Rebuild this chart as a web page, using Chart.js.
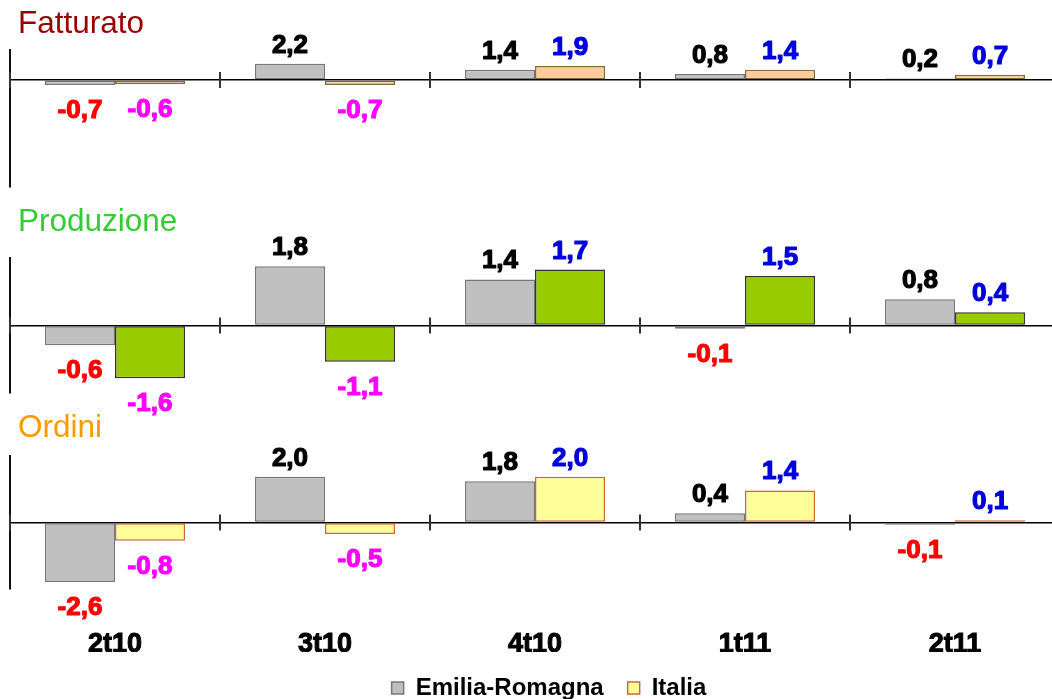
<!DOCTYPE html>
<html>
<head>
<meta charset="utf-8">
<script src="https://cdn.jsdelivr.net/npm/chart.js@4.4.0/dist/chart.umd.min.js"></script>
<style>
  html, body { margin: 0; padding: 0; background: #fff; overflow: hidden; width: 1052px; height: 699px; }
  #wrap { position: relative; width: 1052px; height: 699px; overflow: hidden; }
  canvas { position: absolute; left: 0; }
  .ttl { position: absolute; left: 18px; font: 31.5px "Liberation Sans", Arial, sans-serif; line-height: 1; white-space: nowrap; }
</style>
</head>
<body>
<div id="wrap">
  <canvas id="cFatt" width="1100" height="200" style="top:0"></canvas>
  <canvas id="cProd" width="1100" height="220" style="top:200px"></canvas>
  <canvas id="cOrd" width="1100" height="290" style="top:420px"></canvas>
  <div class="ttl" style="top:7px;color:#990000">Fatturato</div>
  <div class="ttl" style="top:205px;color:#33cc33">Produzione</div>
  <div class="ttl" style="top:411px;color:#ff9900">Ordini</div>
</div>
<script>
// Quarters on the x axis
const categories = ['2t10', '3t10', '4t10', '1t11', '2t11'];
const seriesNames = ['Emilia-Romagna', 'Italia'];

// Variazioni congiunturali (%)
const fatturatoER  = [-0.7, 2.2, 1.4, 0.8, 0.2];
const fatturatoIT  = [-0.6, -0.7, 1.9, 1.4, 0.7];
const produzioneER = [-0.6, 1.8, 1.4, -0.1, 0.8];
const produzioneIT = [-1.6, -1.1, 1.7, 1.5, 0.4];
const ordiniER     = [-2.6, 2.0, 1.8, 0.4, -0.1];
const ordiniIT     = [-0.8, -0.5, 2.0, 1.4, 0.1];

const FONT = '"Liberation Sans", Arial, sans-serif';

// Value labels: above positive bars, below negative ones, comma decimals
const valueLabels = {
  id: 'valueLabels',
  afterDatasetsDraw(chart) {
    const ctx = chart.ctx;
    ctx.save();
    ctx.font = 'bold 26px ' + FONT;
    ctx.textAlign = 'center';
    ctx.textBaseline = 'alphabetic';
    ctx.lineJoin = 'round';
    chart.data.datasets.forEach((ds, di) => {
      const meta = chart.getDatasetMeta(di);
      meta.data.forEach((bar, i) => {
        const v = ds.data[i];
        const top = Math.min(bar.y, bar.base);
        const bottom = Math.max(bar.y, bar.base);
        const pos = v >= 0;
        const col = pos ? ds.labelColorPos : ds.labelColorNeg;
        const txt = v.toFixed(1).replace('.', ',');
        const y = pos ? top - 11 : bottom + 33;
        ctx.fillStyle = col;
        ctx.strokeStyle = col;
        ctx.lineWidth = 1.2;
        ctx.fillText(txt, bar.x, y);
        ctx.strokeText(txt, bar.x, y);
      });
    });
    ctx.restore();
  }
};

// Short tick marks crossing the zero line at each category boundary
const boundaryTicks = {
  id: 'boundaryTicks',
  afterDraw(chart) {
    const xs = chart.scales.x, ys = chart.scales.y;
    const ctx = chart.ctx;
    const y0 = ys.getPixelForValue(0);
    const step = xs.getPixelForValue(1) - xs.getPixelForValue(0);
    ctx.save();
    ctx.strokeStyle = '#333';
    ctx.lineWidth = 2;
    ctx.beginPath();
    for (let i = 0; i <= categories.length; i++) {
      const px = Math.round(xs.getPixelForValue(i) - step / 2);
      ctx.moveTo(px, y0 - 8);
      ctx.lineTo(px, y0 + 8);
    }
    ctx.stroke();
    ctx.restore();
  }
};

function makeDatasets(er, it, itFill, itBorder) {
  return [
    { label: seriesNames[0], data: er, yAxisID: 'y',
      backgroundColor: '#c0c0c0', borderColor: '#777777', borderWidth: 1.5, borderSkipped: false,
      labelColorPos: '#000000', labelColorNeg: '#ff0000' },
    { label: seriesNames[1], data: it, yAxisID: 'y',
      backgroundColor: itFill, borderColor: itBorder, borderWidth: 1.5, borderSkipped: false,
      labelColorPos: '#0000dd', labelColorNeg: '#ff00ff' }
  ];
}

// Value axis: no tick labels, only the zero line and the vertical axis line
function yScale(min, max) {
  return {
    min: min, max: max,
    ticks: { display: false },
    afterBuildTicks: s => { s.ticks = [{ value: 0 }]; },
    grid: { color: '#000', lineWidth: 1.5, drawTicks: false },
    border: { display: true, color: '#111', width: 2 },
    afterFit: s => { s.width = 10; }
  };
}

function baseOptions(min, max, padding) {
  return {
    responsive: false,
    animation: false,
    layout: { padding: padding },
    datasets: { bar: { categoryPercentage: 0.667, barPercentage: 1.0 } },
    plugins: { legend: { display: false }, tooltip: { enabled: false }, title: { display: false } },
    scales: {
      x: { display: false, offset: true, grid: { display: false }, border: { display: false } },
      y: yScale(min, max)
    }
  };
}

// Fatturato
new Chart(document.getElementById('cFatt'), {
  type: 'bar',
  data: { labels: categories, datasets: makeDatasets(fatturatoER, fatturatoIT, '#ffcc99', '#7d6e3a') },
  options: baseOptions(-14.7, 4.1, { left: 0, right: 40, top: 50, bottom: 13 }),
  plugins: [valueLabels, boundaryTicks]
});

// Produzione
new Chart(document.getElementById('cProd'), {
  type: 'bar',
  data: { labels: categories, datasets: makeDatasets(produzioneER, produzioneIT, '#99cc00', '#333333') },
  options: baseOptions(-2.05, 2.05, { left: 0, right: 40, top: 58, bottom: 27 }),
  plugins: [valueLabels, boundaryTicks]
});

// Ordini, with the category labels and the legend underneath
const ordOptions = baseOptions(-2.9, 2.9, { left: 0, right: 2, top: 36, bottom: 0 });
ordOptions.scales.x = {
  display: true, offset: true,
  grid: { display: false, drawTicks: false }, border: { display: false },
  ticks: { color: '#000', padding: 39, textStrokeColor: '#000', textStrokeWidth: 1,
           font: { family: FONT, size: 27, weight: 'bold' } },
  afterFit: s => { s.height = 63; }
};
// spacer on the right so the legend sits centred under the page
ordOptions.scales.yPad = {
  axis: 'y', position: 'right', display: true,
  ticks: { display: false }, grid: { display: false, drawTicks: false }, border: { display: false },
  afterFit: s => { s.width = 38; }
};
ordOptions.plugins.legend = {
  display: true, position: 'bottom',
  labels: { boxWidth: 12, boxHeight: 12, padding: 24, color: '#000',
            font: { family: FONT, size: 24, weight: 'bold' } }
};
new Chart(document.getElementById('cOrd'), {
  type: 'bar',
  data: { labels: categories, datasets: makeDatasets(ordiniER, ordiniIT, '#ffff99', '#cc6633') },
  options: ordOptions,
  plugins: [valueLabels, boundaryTicks]
});
</script>
</body>
</html>
